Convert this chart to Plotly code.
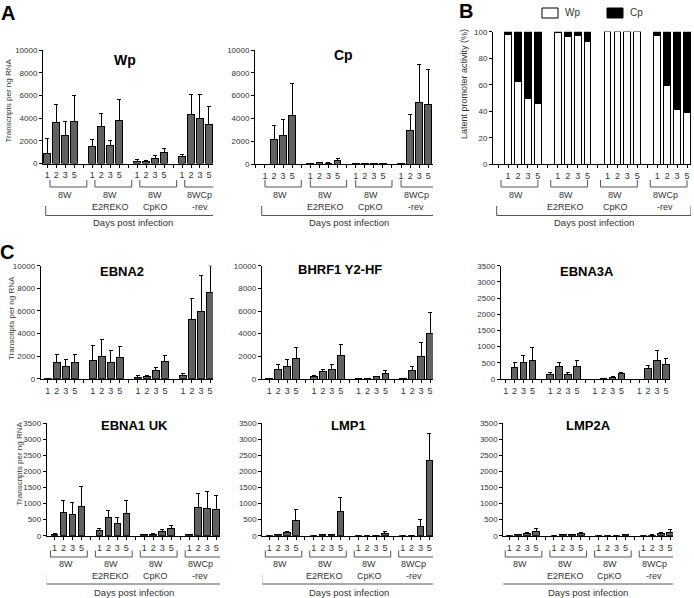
import math
import plotly.graph_objects as go

W, H = 694, 598
FONT = "Liberation Sans, Arial, sans-serif"

# ---------------- data ----------------
days = ["1", "2", "3", "5"]
group_line1 = ["8W", "8W", "8W", "8WCp"]
group_line2 = ["", "E2REKO", "CpKO", "-rev"]

# order: 8W d1,d2,d3,d5 | 8W E2REKO ... | 8W CpKO ... | 8WCp-rev ...
wp_mean = [880, 3620, 2500, 3680, 1470, 3240, 1560, 3820, 150, 200, 440, 940, 590, 4350, 3970, 3440]
wp_sd = [1320, 1580, 1180, 2350, 650, 1170, 440, 1860, 200, 100, 240, 380, 210, 1740, 2120, 1620]

cp_mean = [0, 2130, 2480, 4260, 20, 90, 60, 290, 5, 10, 10, 10, 30, 2920, 5390, 5250]
cp_sd = [0, 1220, 1400, 2820, 0, 60, 60, 230, 0, 0, 0, 0, 0, 1450, 3380, 3000]

wp_pct = [98, 62.3, 49.5, 46, 99.5, 96.7, 97, 92.5, 100, 100, 100, 100, 97, 59.5, 41.7, 39.2]
cp_pct = [2, 37.7, 50.5, 54, 0.5, 3.3, 3, 7.5, 0, 0, 0, 0, 3, 40.5, 58.3, 60.8]

ebna2_mean = [60, 1450, 1120, 1420, 1590, 1950, 1450, 1860, 150, 210, 740, 1530, 320, 5250, 5930, 7640]
ebna2_sd = [0, 700, 590, 700, 1360, 1530, 1060, 1030, 90, 90, 260, 560, 150, 1860, 3240, 2360]

bhrf1_mean = [20, 880, 1090, 1820, 210, 650, 850, 2060, 10, 60, 200, 500, 20, 760, 1970, 4030]
bhrf1_sd = [0, 440, 590, 940, 140, 230, 410, 970, 0, 0, 60, 260, 0, 330, 1270, 1850]

ebna3a_mean = [0, 370, 525, 577, 124, 381, 124, 400, 0, 5, 50, 155, 0, 310, 566, 443]
ebna3a_sd = [0, 155, 215, 383, 72, 134, 72, 166, 0, 0, 22, 51, 0, 112, 330, 195]

ebna1_mean = [42, 727, 675, 924, 177, 581, 384, 706, 31, 52, 135, 218, 31, 883, 851, 810]
ebna1_sd = [20, 384, 363, 602, 62, 198, 177, 384, 11, 21, 62, 114, 21, 436, 540, 446]

lmp1_mean = [0, 31, 93, 488, 0, 31, 42, 768, 0, 0, 10, 83, 0, 10, 301, 2326]
lmp1_sd = [0, 21, 42, 332, 0, 11, 10, 426, 0, 0, 11, 42, 0, 0, 208, 862]

lmp2a_mean = [0, 42, 73, 135, 0, 31, 42, 73, 0, 0, 5, 25, 0, 21, 62, 114]
lmp2a_sd = [0, 10, 20, 104, 0, 11, 10, 20, 0, 0, 0, 17, 0, 10, 31, 94]

# ---------------- layout helpers ----------------
def px(x):
    return x / W


def py(y):
    return 1 - y / H


positions = [g * 5 + i for g in range(4) for i in range(4)]

ROWS = {
    "A": dict(bt=180, bb=187, l1=195, l2=207, gt=206, gb=215.5, days=223),
    "2": dict(bt=550.5, bb=557, l1=564, l2=576, gt=574, gb=584, days=592),
}

panels = [
    dict(kind="bar", mean=wp_mean, sd=wp_sd, x=(43, 213), y=(50, 163.5), xr=(-0.48, 18.45),
         ymax=10000, dtick=2000, title="Wp", tsize=14, tpos=(125, 60), ytitle="Transcripts per ng RNA",
         ytpos=(7.5, 101), brk=(0.3, 4.4), big=(-0.18, 19.3), row="A"),
    dict(kind="bar", mean=cp_mean, sd=cp_sd, x=(255, 433), y=(50, 164), xr=(-1.1, 18.52),
         ymax=10000, dtick=2000, title="Cp", tsize=14, tpos=(343, 55), brk=(0.0, 4.0), big=(-0.36, 18.9), row="A"),
    dict(kind="stack", x=(493, 691), y=(31.7, 164.3), xr=(-1.51, 18.4), ymax=100, dtick=20,
         ytitle="Latent promoter activity (%)", ytsize=9, ytpos=(464, 84), brk=(-0.7, 3.0), big=(-1.14, 18.4), row="A"),
    dict(kind="bar", mean=ebna2_mean, sd=ebna2_sd, x=(40.7, 213), y=(265.7, 378.7), xr=(-0.78, 18.33),
         ymax=10000, dtick=2000, title="EBNA2", tpos=(122, 272), ytitle="Transcripts per ng RNA",
         ytpos=(11, 318)),
    dict(kind="bar", mean=bhrf1_mean, sd=bhrf1_sd, x=(261.7, 433), y=(265.7, 379), xr=(-0.85, 18.33),
         ymax=10000, dtick=2000, title="BHRF1 Y2-HF", tpos=(340, 270)),
    dict(kind="bar", mean=ebna3a_mean, sd=ebna3a_sd, x=(500.7, 670), y=(265.7, 379), xr=(-0.56, 18.46),
         ymax=3500, dtick=500, title="EBNA3A", tpos=(587, 272)),
    dict(kind="bar", mean=ebna1_mean, sd=ebna1_sd, x=(46.7, 220), y=(423.3, 535.7), xr=(-0.87, 18.43),
         ymax=3500, dtick=500, title="EBNA1 UK", tpos=(134, 425), ytitle="Transcripts per ng RNA",
         ytpos=(19, 463.5), brk=(-0.45, 3.65), big=(-0.95, 18.6), row="2"),
    dict(kind="bar", mean=lmp1_mean, sd=lmp1_sd, x=(262.3, 433), y=(423.3, 535.7), xr=(-0.79, 18.41),
         ymax=3500, dtick=500, title="LMP1", tpos=(348, 425.5), brk=(-0.45, 3.65), big=(-0.85, 18.8), row="2"),
    dict(kind="bar", mean=lmp2a_mean, sd=lmp2a_sd, x=(503.3, 673), y=(423.3, 535.7), xr=(-0.67, 18.33),
         ymax=3500, dtick=500, title="LMP2A", tpos=(588, 425), brk=(-0.45, 3.65), big=(-0.96, 18.55), row="2"),
]

fig = go.Figure()
layout = {}
annotations = []
shapes = []

BAR_COLOR = "#616161"
LINE_GRAY = "#555555"
TXT = "#333333"

for n, p in enumerate(panels, start=1):
    xa = "xaxis" if n == 1 else f"xaxis{n}"
    ya = "yaxis" if n == 1 else f"yaxis{n}"
    xref = "x" if n == 1 else f"x{n}"
    yref = "y" if n == 1 else f"y{n}"

    if p["kind"] == "bar":
        fig.add_trace(go.Bar(
            x=positions, y=p["mean"], width=0.74,
            marker=dict(color=BAR_COLOR, line=dict(color="black", width=1)),
            error_y=dict(type="data", array=p["sd"], arrayminus=[0] * len(p["sd"]),
                         symmetric=False, color="black", thickness=1, width=2),
            xaxis=xref, yaxis=yref, showlegend=False, cliponaxis=False, hoverinfo="skip",
        ))
    else:
        fig.add_trace(go.Bar(
            x=positions, y=wp_pct, width=0.68, name="Wp",
            marker=dict(color="white", line=dict(color="black", width=1)),
            xaxis=xref, yaxis=yref, showlegend=False, cliponaxis=False, hoverinfo="skip",
        ))
        fig.add_trace(go.Bar(
            x=positions, y=cp_pct, width=0.68, name="Cp",
            marker=dict(color="black", line=dict(color="black", width=1)),
            xaxis=xref, yaxis=yref, showlegend=False, cliponaxis=False, hoverinfo="skip",
        ))

    r0, r1 = p["xr"]
    tickvals, ticktext = [], []
    for t in range(math.ceil(r0), math.floor(r1) + 1):
        tickvals.append(t)
        if 0 <= t < 20 and t % 5 < 4:
            ticktext.append(days[t % 5])
        else:
            ticktext.append("")

    layout[xa] = dict(
        domain=[px(p["x"][0]), px(p["x"][1])], anchor=yref, range=[r0, r1],
        tickmode="array", tickvals=tickvals, ticktext=ticktext, tickangle=0,
        ticks="outside", ticklen=3, tickwidth=1, tickcolor="black",
        showline=True, linecolor="black", linewidth=1,
        showgrid=False, zeroline=False, automargin=False, fixedrange=True,
        tickfont=dict(size=9, color=TXT, family=FONT),
    )
    layout[ya] = dict(
        domain=[py(p["y"][1]), py(p["y"][0])], anchor=xref, range=[0, p["ymax"]],
        tickmode="linear", tick0=0, dtick=p["dtick"], tickformat="d",
        ticks="outside", ticklen=3, tickwidth=1, tickcolor="black",
        showline=True, linecolor="black", linewidth=1,
        showgrid=False, zeroline=False, automargin=False, fixedrange=True,
        tickfont=dict(size=8, color=TXT, family=FONT),
    )

    if p.get("title"):
        annotations.append(dict(
            text=f"<b>{p['title']}</b>", x=px(p["tpos"][0]), y=py(p["tpos"][1]),
            xref="paper", yref="paper", showarrow=False, xanchor="center", yanchor="middle",
            font=dict(size=p.get("tsize", 13), color="black", family=FONT),
        ))
    if p.get("ytitle"):
        annotations.append(dict(
            text=p["ytitle"], x=px(p["ytpos"][0]), y=py(p["ytpos"][1]), textangle=-90,
            xref="paper", yref="paper", showarrow=False, xanchor="center", yanchor="middle",
            font=dict(size=p.get("ytsize", 8), color=TXT, family=FONT),
        ))

    if p.get("row"):
        rs = ROWS[p["row"]]
        b0, b1 = p["brk"]
        for g in range(4):
            x0 = g * 5 + b0
            x1 = g * 5 + b1
            shapes.append(dict(
                type="path", xref=xref, yref="paper",
                path=f"M {x0},{py(rs['bt'])} L {x0},{py(rs['bb'])} L {x1},{py(rs['bb'])} L {x1},{py(rs['bt'])}",
                line=dict(color=LINE_GRAY, width=1),
            ))
            cx = (x0 + x1) / 2 - 0.35
            annotations.append(dict(
                text=group_line1[g], x=cx, y=py(rs["l1"]), xref=xref, yref="paper",
                showarrow=False, xanchor="center", yanchor="middle",
                font=dict(size=9, color=TXT, family=FONT),
            ))
            if group_line2[g]:
                annotations.append(dict(
                    text=group_line2[g], x=cx, y=py(rs["l2"]), xref=xref, yref="paper",
                    showarrow=False, xanchor="center", yanchor="middle",
                    font=dict(size=9, color=TXT, family=FONT),
                ))
        g0, g1 = p["big"]
        shapes.append(dict(
            type="path", xref=xref, yref="paper",
            path=f"M {g0},{py(rs['gt'])} L {g0},{py(rs['gb'])} L {g1},{py(rs['gb'])} L {g1},{py(rs['gt'])}",
            line=dict(color=LINE_GRAY, width=1),
        ))
        annotations.append(dict(
            text="Days post infection", x=(g0 + g1) / 2, y=py(rs["days"]), xref=xref, yref="paper",
            showarrow=False, xanchor="center", yanchor="middle",
            font=dict(size=9.5, color=TXT, family=FONT),
        ))

# panel letters
for letter, (lx, ly) in {"A": (8, 12.5), "B": (466, 11), "C": (7, 252)}.items():
    annotations.append(dict(
        text=f"<b>{letter}</b>", x=px(lx), y=py(ly), xref="paper", yref="paper",
        showarrow=False, xanchor="center", yanchor="middle",
        font=dict(size=20, color="black", family=FONT),
    ))

# legend for panel B
shapes.append(dict(type="rect", xref="paper", yref="paper",
                   x0=px(542), x1=px(558), y0=py(18), y1=py(8),
                   fillcolor="white", line=dict(color="black", width=1)))
shapes.append(dict(type="rect", xref="paper", yref="paper",
                   x0=px(607), x1=px(623), y0=py(18), y1=py(8),
                   fillcolor="black", line=dict(color="black", width=1)))
for txt, lx in (("Wp", 563), ("Cp", 628)):
    annotations.append(dict(
        text=txt, x=px(lx), y=py(13), xref="paper", yref="paper",
        showarrow=False, xanchor="left", yanchor="middle",
        font=dict(size=10, color=TXT, family=FONT),
    ))

fig.update_layout(
    width=W, height=H,
    margin=dict(l=0, r=0, t=0, b=0),
    paper_bgcolor="white", plot_bgcolor="white",
    barmode="stack", bargap=0,
    font=dict(family=FONT, color=TXT),
    annotations=annotations, shapes=shapes,
    showlegend=False, hovermode=False,
    **layout,
)

fig.write_html(
    "out.html",
    config={"displayModeBar": False, "staticPlot": True},
    post_script="document.body.style.margin='0';document.body.style.overflow='hidden';",
)
